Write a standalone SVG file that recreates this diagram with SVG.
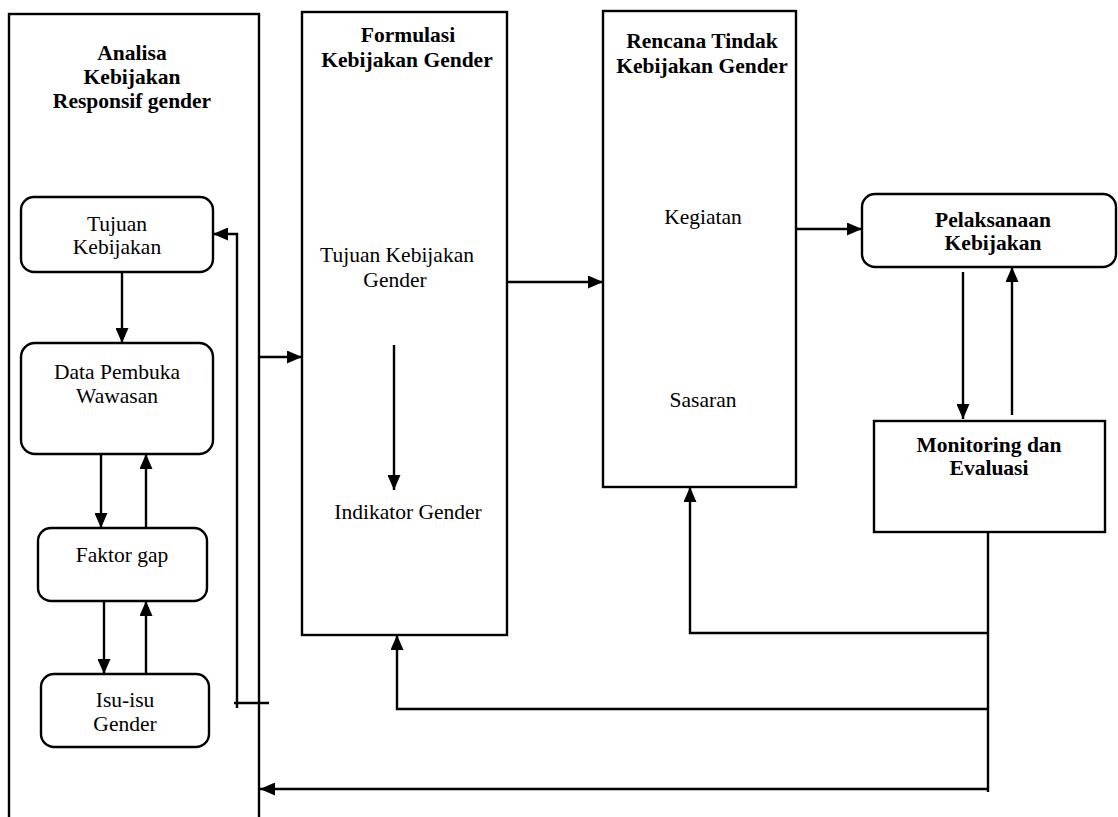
<svg xmlns="http://www.w3.org/2000/svg" width="1118" height="817" viewBox="0 0 1118 817">
<defs>
<marker id="ah" markerUnits="userSpaceOnUse" markerWidth="16" markerHeight="13" refX="15" refY="6.5" orient="auto">
<path d="M0,0 L15,6.5 L0,13 z" fill="#000"/>
</marker>
<style>
.box{fill:#fff;stroke:#000;stroke-width:2.4}
.t{font-family:"Liberation Serif","Times New Roman",serif;font-size:21.5px;fill:#000;text-anchor:middle}
.b{font-weight:bold}
.c{fill:none;stroke:#000;stroke-width:2.4}
.ca{fill:none;stroke:#000;stroke-width:2.4;marker-end:url(#ah)}
</style>
</defs>
<rect width="1118" height="817" fill="#fff"/>

<g id="analisa">
<rect class="box" x="9" y="14" width="250" height="820"/>
<text class="t b" x="132" y="60">Analisa</text>
<text class="t b" x="132" y="84">Kebijakan</text>
<text class="t b" x="132" y="108">Responsif gender</text>
</g>
<g id="tujuan">
<rect class="box" x="21" y="197" width="192" height="75" rx="13"/>
<text class="t" x="117" y="231">Tujuan</text>
<text class="t" x="117" y="254">Kebijakan</text>
</g>
<g id="data">
<rect class="box" x="21" y="343" width="192" height="111" rx="14"/>
<text class="t" x="117" y="379">Data Pembuka</text>
<text class="t" x="117" y="403">Wawasan</text>
</g>
<g id="faktor">
<rect class="box" x="38" y="528" width="169" height="73" rx="13"/>
<text class="t" x="122" y="562">Faktor gap</text>
</g>
<g id="isu">
<rect class="box" x="41" y="674" width="168" height="73" rx="13"/>
<text class="t" x="125" y="707">Isu-isu</text>
<text class="t" x="125" y="731">Gender</text>
</g>
<g id="formulasi">
<rect class="box" x="302" y="12" width="205" height="623"/>
<text class="t b" x="408" y="42">Formulasi</text>
<text class="t b" x="407" y="67">Kebijakan Gender</text>
<text class="t" x="397" y="262">Tujuan Kebijakan</text>
<text class="t" x="395" y="287">Gender</text>
<text class="t" x="408" y="519">Indikator Gender</text>
</g>
<g id="rencana">
<rect class="box" x="603" y="11" width="193" height="476"/>
<text class="t b" x="702" y="48">Rencana Tindak</text>
<text class="t b" x="702" y="73">Kebijakan Gender</text>
<text class="t" x="703" y="224">Kegiatan</text>
<text class="t" x="703" y="407">Sasaran</text>
</g>
<g id="pelaksanaan">
<rect class="box" x="862" y="194" width="254" height="73" rx="13"/>
<text class="t b" x="993" y="227">Pelaksanaan</text>
<text class="t b" x="993" y="250">Kebijakan</text>
</g>
<g id="monitoring">
<rect class="box" x="874" y="421" width="231" height="111"/>
<text class="t b" x="989" y="452">Monitoring dan</text>
<text class="t b" x="989" y="475">Evaluasi</text>
</g>

<g id="connectors">
<path class="ca" d="M122,272 V343"/>
<path class="ca" d="M101,454 V528"/>
<path class="ca" d="M146,528 V454"/>
<path class="ca" d="M104,601 V674"/>
<path class="ca" d="M146,674 V601"/>
<path class="ca" d="M237,708 V234 H213"/>
<path class="c" d="M234,703 H269"/>
<path class="ca" d="M259,357 H302"/>
<path class="ca" d="M394,345 V490"/>
<path class="ca" d="M507,282 H603"/>
<path class="ca" d="M796,229 H862"/>
<path class="ca" d="M963,272 V419"/>
<path class="ca" d="M1012,415 V267"/>
<path class="c" d="M988,532 V792"/>
<path class="ca" d="M988,633 H690 V487"/>
<path class="ca" d="M988,709 H397 V635"/>
<path class="ca" d="M988,789 H260"/>
</g>
</svg>
